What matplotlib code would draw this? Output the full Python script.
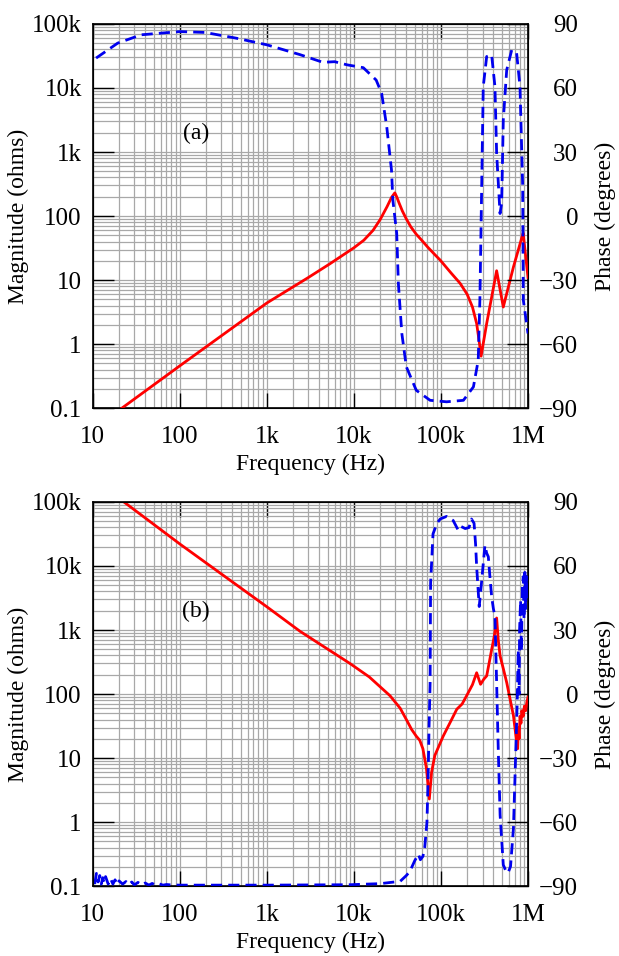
import matplotlib.pyplot as plt
import numpy as np

plt.rcParams['font.family'] = ['Liberation Serif', 'DejaVu Serif']
plt.rcParams['font.size'] = 17

# ---- panel (a) data ----
freq_a_mag = [21.5, 100, 1000, 3000, 5300, 10000, 13000, 16600, 20000, 24000,
              27000, 29500, 31000, 33000, 36000, 40000, 45000, 52000, 60000,
              70000, 85000, 98000, 130000, 166000, 200000, 230000, 257000,
              275000, 289000, 335000, 436000, 520000, 680000, 845000, 880000,
              1000000]
mag_a = [0.1, 0.46, 4.4, 11, 18, 32, 42, 60, 88, 140,
         195, 230, 200, 160, 120, 90, 68, 52, 42,
         33, 25, 20.5, 13, 8.9, 6, 3.8, 2.1,
         1.1, 0.65, 2.1, 14, 3.8, 16, 45, 54,
         11]

freq_a_ph = [10.9, 19.3, 36, 100, 194, 446, 1000, 2400, 4400, 6000, 8400, 12800,
             18000, 20800, 23800, 27000, 28000, 31000, 32400, 35500, 40000, 52000,
             75000, 116000, 181000, 236000, 268000, 280000, 290000, 306000, 335000,
             382000, 417000, 436000, 477000, 498000, 520000, 569000, 650000, 740000,
             809000, 869000, 883000, 1000000]
phase_a = [74, 81, 84.9, 86.4, 86, 83.3, 80.2, 75.6, 72, 72.3, 70.8, 69.5,
           63.7, 57.5, 41.9, 21.6, 7.5, -8.1, -31.6, -55, -70.6, -81.6,
           -86.3, -87, -86.3, -80, -67.5, -39, 0, 60.6, 74.7,
           75.5, 60.6, 29.4, 1.2, 6, 45, 68.4, 77.8, 76.3,
           60.6, 13.7, -39.4, -55]

# ---- panel (b) data ----
freq_b_mag = [22.7, 100, 1000, 2400, 9000, 15000, 26000, 34000, 40000, 46000,
              52000, 57000, 62000, 68000, 73500, 78000, 85000, 106000, 130000,
              152000, 175000, 197000, 230000, 257000, 285000, 310000, 335000,
              360000, 382000, 410000, 436000, 455000, 478000, 520000, 570000,
              680000, 740000, 760000, 775000, 790000, 810000, 830000, 850000,
              880000, 910000, 940000, 970000, 1000000]
mag_b = [100000, 22000, 2300, 955, 300, 185, 94, 60, 40, 28,
         22, 19, 14, 7, 2.3, 6, 11, 22, 38,
         58, 70, 94, 140, 215, 142, 170, 192,
         320, 493, 800, 1540, 700, 392, 250, 150,
         46, 18, 14, 30, 20, 45, 35, 55,
         45, 65, 55, 75, 90]

freq_b_ph = [10.5, 11, 11.5, 12, 12.5, 13, 13.5, 14, 15, 16, 17, 18, 19, 20, 22,
             24, 26, 28, 30, 33, 36, 40, 44, 48, 53, 58, 64, 70, 80, 100, 1000,
             9000, 20000, 34000, 40000, 44000, 50000, 55000, 58000, 62000, 65000,
             69000, 71000, 73000, 75000, 76000, 81000, 90000, 98000, 116000,
             138000, 158000, 170000, 190000, 210000, 224000, 240000, 250000,
             257000, 275000, 292000, 320000, 335000, 350000, 365000, 382000,
             400000, 417000, 436000, 455000, 478000, 520000, 570000, 600000,
             630000, 680000, 725000, 750000, 773000, 790000, 800000, 822000,
             840000, 860000, 883000, 900000, 920000, 940000, 960000, 980000,
             1000000]
phase_b = [-89, -84, -88, -85, -89, -86, -88.5, -85.5, -89, -86.5, -89, -87,
           -89.3, -87.5, -89, -87.8, -89.3, -88, -89.4, -88.2, -89.4, -88.5,
           -89.5, -88.7, -89.5, -88.9, -89.5, -89.2, -89.4, -89.5, -89.5,
           -89.3, -88.8, -87.7, -85, -83, -78, -75, -77.6, -76, -72,
           -60, -41, -15, 5, 52, 75, 80, 82, 83.2,
           81.3, 76.7, 78.5, 77.5, 78, 82, 80, 70,
           59.6, 41, 52, 69.7, 66, 64.3, 55, 45.7,
           40, 36.4, 5.3, -25.7, -56.7, -80, -83.8, -83,
           -80.7, -62.9, -25.7, -5, 20.8, 0, 30, 44,
           20, 50, 55, 35, 57, 40, 55, 45,
           52]

x_ticks = [10, 100, 1e3, 1e4, 1e5, 1e6]
x_labels = ['10', '100', '1k', '10k', '100k', '1M']
y_ticks = [0.1, 1, 10, 100, 1e3, 1e4, 1e5]
y_labels = ['0.1', '1', '10', '100', '1k', '10k', '100k']
ph_ticks = [-90, -60, -30, 0, 30, 60, 90]

fig = plt.figure(figsize=(6.19, 9.56), dpi=100)


def make_panel(rect, fm, mag, fp, ph, tag):
    ax = fig.add_axes(rect)
    ax.set_xscale('log')
    ax.set_yscale('log')
    ax.set_xlim(10, 1e6)
    ax.set_ylim(0.1, 1e5)
    ax.grid(True, which='both', color='#a8a8a8', linewidth=0.9)
    ax.set_axisbelow(True)
    ax.plot(fm, mag, color='red', linewidth=2.0, zorder=3)
    ax.set_xticks(x_ticks)
    ax.set_xticklabels(x_labels)
    ax.set_yticks(y_ticks)
    ax.set_yticklabels(y_labels)
    ax.tick_params(which='major', axis='y', direction='in', length=15, width=1,
                   pad=8, labelsize=18)
    ax.tick_params(which='major', axis='x', direction='in', length=11, width=1,
                   pad=13, labelsize=18, top=True)
    ax.tick_params(which='minor', length=0)
    ax.set_xlabel('Frequency (Hz)', labelpad=4)
    ax.set_ylabel('Magnitude (ohms)', labelpad=2)
    for s in ax.spines.values():
        s.set_linewidth(1.2)
    ax.text(0.237, 0.716, tag, transform=ax.transAxes, ha='center', va='center')

    ax2 = ax.twinx()
    ax2.set_ylim(-90, 90)
    ax2.set_yticks(ph_ticks)
    ax2.plot(fp, ph, color='#0000ee', linewidth=2.0, linestyle=(0, (4, 2.2)))
    ax2.tick_params(axis='y', direction='in', length=15, width=1, pad=36,
                    labelsize=18)
    for lab in ax2.get_yticklabels():
        lab.set_horizontalalignment('right')
    ax2.set_ylabel('Phase (degrees)', labelpad=12)
    return ax


make_panel([0.150, 0.573, 0.703, 0.402], freq_a_mag, mag_a, freq_a_ph, phase_a, '(a)')
make_panel([0.150, 0.073, 0.703, 0.402], freq_b_mag, mag_b, freq_b_ph, phase_b, '(b)')

fig.savefig('out.png', dpi=100)
